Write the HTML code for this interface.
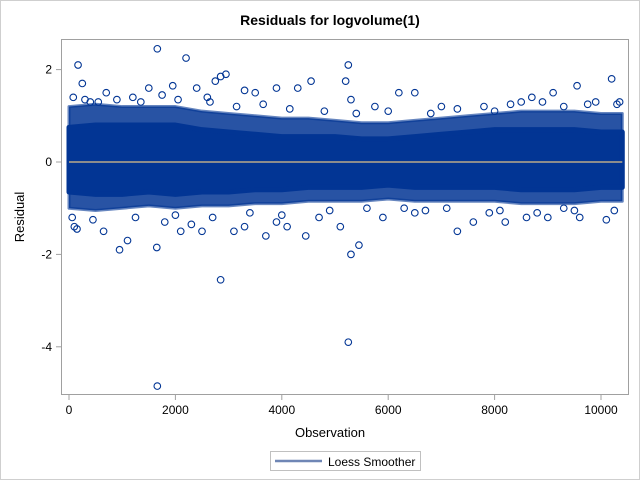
<!DOCTYPE html>
<html><head><meta charset="utf-8"><style>
html,body{margin:0;padding:0;background:#fff}
svg{display:block;font-family:"Liberation Sans",Arial,sans-serif}
</style></head><body>
<svg width="640" height="480" viewBox="0 0 640 480" xmlns="http://www.w3.org/2000/svg">
<rect x="0.5" y="0.5" width="639" height="479" fill="#fff" stroke="#cfcfcf"/>
<text x="330" y="25" text-anchor="middle" font-size="14" font-weight="bold" fill="#000">Residuals for logvolume(1)</text>
<g id="plot"></g>
<rect x="61.5" y="39.5" width="567" height="355" fill="none" stroke="#a0a0a0"/>
<g id="axes"></g>
<text x="330" y="437" text-anchor="middle" font-size="13" fill="#000">Observation</text>
<text transform="translate(24,217) rotate(-90)" text-anchor="middle" font-size="13" fill="#000">Residual</text>
<g>
<rect x="270.5" y="451.5" width="150" height="19" fill="#fff" stroke="#c0c0c0"/>
<line x1="275" y1="461" x2="322" y2="461" stroke="#6f86b5" stroke-width="2.5"/>
<text x="328" y="466" font-size="12" fill="#000">Loess Smoother</text>
</g>
</svg>
<script>
const bandObs=[0,500,1000,1500,2000,2500,3000,3500,4000,4500,5000,5500,6000,6500,7000,7500,8000,8500,9000,9500,10000,10400];
const bandUpper=[0.75,0.8,0.8,0.8,0.8,0.7,0.65,0.6,0.55,0.55,0.55,0.5,0.5,0.55,0.6,0.65,0.7,0.7,0.7,0.7,0.65,0.65];
const bandLower=[-0.65,-0.7,-0.7,-0.65,-0.7,-0.65,-0.65,-0.6,-0.6,-0.55,-0.55,-0.55,-0.5,-0.55,-0.55,-0.55,-0.55,-0.6,-0.6,-0.6,-0.55,-0.55];
const fringeUpper=[1.2,1.25,1.2,1.2,1.2,1.1,1.05,1.0,0.95,0.95,0.9,0.85,0.85,0.9,0.95,1.0,1.05,1.1,1.1,1.1,1.05,1.05];
const fringeLower=[-1.0,-1.05,-1.0,-0.95,-1.0,-0.95,-0.95,-0.9,-0.9,-0.85,-0.85,-0.85,-0.8,-0.85,-0.85,-0.85,-0.85,-0.9,-0.9,-0.9,-0.85,-0.85];
const outObs=[1660,2200,170,5250,5200,10200,9550,2850,2950,2750,3300,1500,1950,250,5300,6200,6500,5750,3900,4300,4550,3500,1200,700,400,2600,2400,8700,9100,9900,10300,8000,7000,8500,
1660,5250,2850,5300,5450,1650,950,1100,100,150,650,2100,2500,3100,3300,3700,4100,4450,5100,5900,6500,7300,7600,8200,8600,9000,9600,10100,4700,2300,1800,3900,6300,7900,9300,
80,300,550,900,1350,1750,2050,2650,3150,3650,4150,4800,5400,6000,6800,7300,7800,8300,8900,9300,9750,10350,
60,450,1250,2000,2700,3400,4000,4900,5600,6700,7100,8100,8800,9500,10250];
const outVal=[2.45,2.25,2.1,2.1,1.75,1.8,1.65,1.85,1.9,1.75,1.55,1.6,1.65,1.7,1.35,1.5,1.5,1.2,1.6,1.6,1.75,1.5,1.4,1.5,1.3,1.4,1.6,1.4,1.5,1.3,1.25,1.1,1.2,1.3,
-4.85,-3.9,-2.55,-2.0,-1.8,-1.85,-1.9,-1.7,-1.4,-1.45,-1.5,-1.5,-1.5,-1.5,-1.4,-1.6,-1.4,-1.6,-1.4,-1.2,-1.1,-1.5,-1.3,-1.3,-1.2,-1.2,-1.2,-1.25,-1.2,-1.35,-1.3,-1.3,-1.0,-1.1,-1.0,
1.4,1.35,1.3,1.35,1.3,1.45,1.35,1.3,1.2,1.25,1.15,1.1,1.05,1.1,1.05,1.15,1.2,1.25,1.3,1.2,1.25,1.3,
-1.2,-1.25,-1.2,-1.15,-1.2,-1.1,-1.15,-1.05,-1.0,-1.05,-1.0,-1.05,-1.1,-1.05,-1.05];
const loessVal=[0,0];
const loessObs=[0,10400];
const xTicks=[0,2000,4000,6000,8000,10000];
const yTicks=[2,0,-2,-4];

const NS='http://www.w3.org/2000/svg';
const xs=v=>69+v*0.0532;
const ys=v=>162-v*46.2;
const plot=document.getElementById('plot');
const axes=document.getElementById('axes');
function mk(t,a,p){const e=document.createElementNS(NS,t);for(const k in a)e.setAttribute(k,a[k]);(p||plot).appendChild(e);return e;}
function poly(up,low){let p=bandObs.map((o,i)=>xs(o)+','+ys(up[i]));for(let i=bandObs.length-1;i>=0;i--)p.push(xs(bandObs[i])+','+ys(low[i]));return p.join(' ');}

const fr=mk('polygon',{points:poly(fringeUpper,fringeLower),fill:'#023594','fill-opacity':'0.85',stroke:'#023594','stroke-opacity':'0.6','stroke-width':'3','stroke-linejoin':'round'});


const band=mk('polygon',{points:poly(bandUpper,bandLower),fill:'#023594',stroke:'#023594','stroke-width':'5','stroke-linejoin':'round'});



outObs.forEach((o,i)=>{
 const c=mk('circle',{cx:xs(o),cy:ys(outVal[i]),r:3.3,fill:'none',stroke:'#023594','stroke-width':'1.1'});
 
 
});

const lo=mk('polyline',{points:loessObs.map((o,i)=>xs(o)+','+ys(loessVal[i])).join(' '),fill:'none',stroke:'#8c8c8c','stroke-width':'2'});



xTicks.forEach(t=>{
 const l=mk('line',{x1:xs(t),x2:xs(t),y1:395,y2:400,stroke:'#a0a0a0'},axes);
 
 
 const tx=mk('text',{x:xs(t),y:414,'text-anchor':'middle','font-size':'12',fill:'#000'},axes);
 tx.textContent=t;
 
 
});
yTicks.forEach(t=>{
 const l=mk('line',{x1:56,x2:61,y1:ys(t),y2:ys(t),stroke:'#a0a0a0'},axes);
 
 
 const tx=mk('text',{x:52,y:ys(t)+4,'text-anchor':'end','font-size':'12',fill:'#000'},axes);
 tx.textContent=t;
 
 
});
</script>
</body></html>
